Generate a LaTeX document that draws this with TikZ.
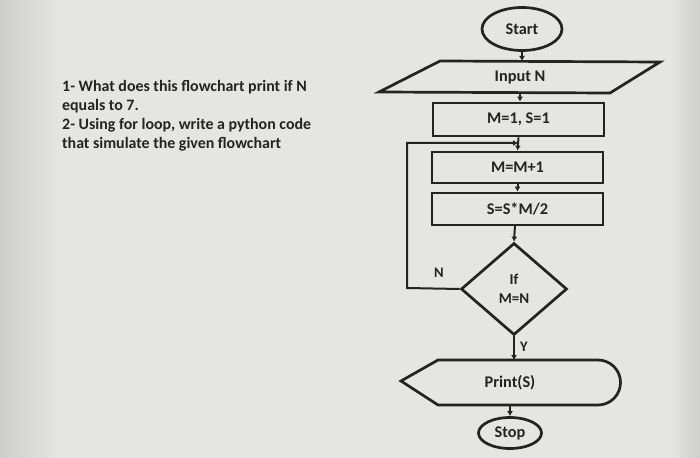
\documentclass[tikz,border=0pt]{standalone}
\usepackage{fontspec}
\setmainfont{Carlito}
\usetikzlibrary{shapes.geometric,arrows.meta,calc}
\definecolor{bg}{RGB}{229,229,227}
\definecolor{bgdark}{RGB}{205,205,203}
\definecolor{ink}{RGB}{35,35,35}
\begin{document}
\begin{tikzpicture}[x=1pt,y=-1pt,
  every node/.style={text=ink,font=\bfseries\fontsize{16.3}{18}\selectfont},
  shapeline/.style={draw=ink,line width=2.7pt},
  boxnode/.style={shapeline,rectangle,minimum width=171pt,minimum height=32pt,inner sep=0pt},
  termnode/.style={shapeline,ellipse,inner sep=0pt},
  plainnode/.style={inner sep=0pt},
  flow/.style={draw=ink,line width=2pt,-{Latex[length=5pt,width=6pt]}},
  lbl/.style={font=\bfseries\fontsize{14.5}{16}\selectfont}]
\useasboundingbox (0,0) rectangle (700,457);
\fill[bg] (-2,-2) rectangle (702,459);
\shade[left color=bgdark,right color=bg] (-2,-2) rectangle (60,459);
\shade[left color=bg,right color=bgdark] (670,-2) rectangle (702,459);

% question text
\node[plainnode,anchor=west,align=left,font=\bfseries\fontsize{15.9}{19}\selectfont] (q) at (62,116)
 {1- What does this flowchart print if N\\equals to 7.\\2- Using for loop, write a python code\\that simulate the given flowchart};

% nodes
\node[termnode,minimum width=80pt,minimum height=43pt] (start) at (522,29) {Start};
\node[plainnode,minimum width=160pt,minimum height=32pt] (inp) at (520,77) {Input N};
\draw[shapeline,line join=miter] (440,61) -- (660,62) -- (610,93) -- (379,92) -- cycle;
\node[boxnode,minimum height=33pt] (m1) at (518.5,119.5) {M=1, S=1};
\node[boxnode,minimum height=31pt] (mm) at (517.5,167.5) {M=M+1};
\node[boxnode] (ss) at (517.5,209) {S=S*M/2};
\node[shapeline,diamond,minimum width=106pt,minimum height=92pt,inner sep=0pt,align=center,font=\bfseries\fontsize{15}{19}\selectfont] (dia) at (514,289) {If\\M=N};
\node[plainnode,minimum width=180pt,minimum height=45pt] (pr) at (510,382.5) {Print(S)};
\draw[shapeline,line join=miter] (401,381) -- (438,360) -- (598,360)
  arc[start angle=-90,end angle=90,radius=22.5] -- (438,405) -- cycle;
\node[termnode,minimum width=63pt,minimum height=31pt] (stop) at (510,433) {Stop};

% labels
\node[lbl] (nl) at (439,273) {N};
\node[lbl] (yl) at (524,347) {Y};

% connectors
\coordinate (join) at (518,143);
\coordinate (loopl) at (407,288);
\draw[flow] (start.south) -- (start.south |- 0,61);
\draw[flow] (520,92) -- (m1.north -| 520,0);
\draw[flow] (m1.south) -- (mm.north);
\draw[flow] (dia.west) -- (loopl) |- (join);
\draw[flow] (mm.south) -- (mm.south |- ss.north);
\draw[flow] (515,225) -- (dia.north);
\draw[flow] (dia.south) -- (dia.south |- 0,360);
\draw[flow] (510,405) -- (stop.north);
\end{tikzpicture}
\end{document}
